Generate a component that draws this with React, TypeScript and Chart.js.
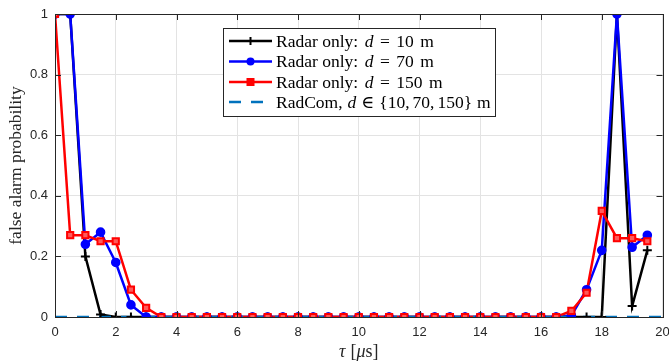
import React, { useEffect, useRef } from "react";
import { Chart, registerables } from "chart.js";

Chart.register(...registerables);

const TAU = [
  0, 0.5, 1, 1.5, 2, 2.5, 3, 3.5, 4, 4.5, 5, 5.5, 6, 6.5, 7, 7.5, 8, 8.5, 9, 9.5,
  10, 10.5, 11, 11.5, 12, 12.5, 13, 13.5, 14, 14.5, 15, 15.5, 16, 16.5, 17, 17.5, 18, 18.5, 19, 19.5,
];
const RADAR_10 = [
  1, 1, 0.2, 0.008, 0, 0, 0, 0, 0, 0, 0, 0, 0, 0, 0, 0, 0, 0, 0, 0,
  0, 0, 0, 0, 0, 0, 0, 0, 0, 0, 0, 0, 0, 0, 0, 0, 0, 1, 0.036, 0.22,
];
const RADAR_70 = [
  1, 1, 0.24, 0.28, 0.18, 0.04, 0, 0, 0, 0, 0, 0, 0, 0, 0, 0, 0, 0, 0, 0,
  0, 0, 0, 0, 0, 0, 0, 0, 0, 0, 0, 0, 0, 0, 0.005, 0.09, 0.22, 1, 0.23, 0.27,
];
const RADAR_150 = [
  1, 0.27, 0.27, 0.25, 0.25, 0.09, 0.03, 0, 0, 0, 0, 0, 0, 0, 0, 0, 0, 0, 0, 0,
  0, 0, 0, 0, 0, 0, 0, 0, 0, 0, 0, 0, 0, 0, 0.02, 0.08, 0.35, 0.26, 0.26, 0.25,
];
const RADCOM_TAU = [0, 20];
const RADCOM = [0, 0];

const X_TICKS = [0, 2, 4, 6, 8, 10, 12, 14, 16, 18, 20];
const Y_TICKS = [0, 0.2, 0.4, 0.6, 0.8, 1];

const BLACK = "#000000";
const BLUE = "#0000ff";
const RED = "#ff0000";
const RADCOM_BLUE = "#0072bd";
const SERIF = "'Liberation Serif', 'DejaVu Serif', serif";
const SANS = "'Liberation Sans', Arial, sans-serif";

const pts = (xs: number[], ys: number[]) => xs.map((x, i) => ({ x, y: ys[i] }));

type Run = { t: string; italic?: boolean; gap?: number };

function drawRuns(ctx: CanvasRenderingContext2D, runs: Run[], x: number, y: number, size: number) {
  let cx = x;
  for (const r of runs) {
    ctx.font = `${r.italic ? "italic " : ""}${size}px ${SERIF}`;
    ctx.fillText(r.t, cx, y);
    cx += ctx.measureText(r.t).width + (r.gap || 0);
  }
}
function runsWidth(ctx: CanvasRenderingContext2D, runs: Run[], size: number) {
  let w = 0;
  for (const r of runs) {
    ctx.font = `${r.italic ? "italic " : ""}${size}px ${SERIF}`;
    w += ctx.measureText(r.t).width + (r.gap || 0);
  }
  return w;
}

const LEGEND = [
  { runs: [{ t: "Radar only:", gap: 6.5 }, { t: "d", italic: true, gap: 6.5 }, { t: "=", gap: 6.5 }, { t: "10", gap: 6.5 }, { t: "m" }], color: BLACK, marker: "cross", dash: false },
  { runs: [{ t: "Radar only:", gap: 6.5 }, { t: "d", italic: true, gap: 6.5 }, { t: "=", gap: 6.5 }, { t: "70", gap: 6.5 }, { t: "m" }], color: BLUE, marker: "circle", dash: false },
  { runs: [{ t: "Radar only:", gap: 6.5 }, { t: "d", italic: true, gap: 6.5 }, { t: "=", gap: 6.5 }, { t: "150", gap: 6.5 }, { t: "m" }], color: RED, marker: "rect", dash: false },
  { runs: [{ t: "RadCom,", gap: 5 }, { t: "d", italic: true, gap: 5 }, { t: "\u2208", gap: 5 }, { t: "{10,", gap: 3 }, { t: "70,", gap: 3 }, { t: "150}", gap: 5 }, { t: "m" }], color: RADCOM_BLUE, marker: "", dash: true },
];

const framePlugin = {
  id: "frame",
  afterDraw(chart: any) {
    const { ctx, chartArea: a, scales } = chart;
    const xs = scales.x;
    const ys = scales.y;
    ctx.save();
    ctx.strokeStyle = "#262626";
    ctx.lineWidth = 1;
    ctx.strokeRect(Math.round(a.left) + 0.5, Math.round(a.top) + 0.5, Math.round(a.right - a.left), Math.round(a.bottom - a.top));
    ctx.beginPath();
    for (const v of X_TICKS) {
      const px = Math.round(xs.getPixelForValue(v)) + 0.5;
      ctx.moveTo(px, a.bottom);
      ctx.lineTo(px, a.bottom - 6);
      ctx.moveTo(px, a.top);
      ctx.lineTo(px, a.top + 6);
    }
    for (const v of Y_TICKS) {
      const py = Math.round(ys.getPixelForValue(v)) + 0.5;
      ctx.moveTo(a.left, py);
      ctx.lineTo(a.left + 6, py);
      ctx.moveTo(a.right, py);
      ctx.lineTo(a.right - 6, py);
    }
    ctx.stroke();

    ctx.fillStyle = "#262626";
    ctx.textBaseline = "alphabetic";
    const xt: Run[] = [{ t: "\u03c4", italic: true, gap: 5 }, { t: "[" }, { t: "\u03bc", italic: true }, { t: "s]" }];
    const xw = runsWidth(ctx, xt, 18);
    drawRuns(ctx, xt, (a.left + a.right) / 2 - xw / 2, 357, 18);

    ctx.save();
    ctx.translate(21, (a.top + a.bottom) / 2);
    ctx.rotate(-Math.PI / 2);
    ctx.font = `17.5px ${SERIF}`;
    ctx.textAlign = "center";
    ctx.fillText("false alarm probability", 0, 0);
    ctx.restore();

    const bx = 223.5, by = 28.5, bw = 272, bh = 88;
    ctx.fillStyle = "#ffffff";
    ctx.fillRect(bx, by, bw, bh);
    ctx.strokeStyle = "#262626";
    ctx.lineWidth = 1;
    ctx.strokeRect(bx, by, bw, bh);
    const rowY = [41, 61.5, 82, 102];
    LEGEND.forEach((item, i) => {
      const y = rowY[i];
      ctx.strokeStyle = item.color;
      ctx.lineWidth = 2.5;
      ctx.setLineDash(item.dash ? [12, 10] : []);
      ctx.beginPath();
      ctx.moveTo(229, y);
      ctx.lineTo(272, y);
      ctx.stroke();
      ctx.setLineDash([]);
      const mx = 250.5;
      if (item.marker === "cross") {
        ctx.lineWidth = 2;
        ctx.beginPath();
        ctx.moveTo(mx, y - 4);
        ctx.lineTo(mx, y + 4);
        ctx.stroke();
      } else if (item.marker === "circle") {
        ctx.fillStyle = item.color;
        ctx.beginPath();
        ctx.arc(mx, y, 4, 0, Math.PI * 2);
        ctx.fill();
      } else if (item.marker === "rect") {
        ctx.fillStyle = item.color;
        ctx.fillRect(mx - 4, y - 4, 8, 8);
      }
      ctx.fillStyle = "#000000";
      ctx.textBaseline = "middle";
      drawRuns(ctx, item.runs as Run[], 276, y + 1, 17.5);
    });
    ctx.restore();
  },
};

export default function App() {
  const ref = useRef<HTMLCanvasElement | null>(null);
  useEffect(() => {
    document.body.style.margin = "0";
    const canvas = ref.current!;
    const lineDs = (label: string, data: number[], color: string, order: number) => ({
      label,
      data: pts(TAU, data),
      borderColor: color,
      backgroundColor: color,
      borderWidth: 2.5,
      pointRadius: 0,
      tension: 0,
      order,
    });
    const pointDs = (label: string, data: number[], color: string, style: string, radius: number, fill: string, order: number) => ({
      label,
      data: pts(TAU, data),
      showLine: false,
      borderColor: color,
      backgroundColor: fill,
      pointStyle: style,
      pointRadius: radius,
      pointBorderWidth: 2,
      order,
    });
    const chart = new Chart(canvas, {
      type: "line",
      data: {
        datasets: [
          pointDs("p150", RADAR_150, RED, "rect", 4.4, "#ff5a5a", 0),
          pointDs("p70", RADAR_70, BLUE, "circle", 3.8, BLUE, 1),
          pointDs("p10", RADAR_10, BLACK, "cross", 4.5, BLACK, 2),
          {
            label: "RadCom",
            data: pts(RADCOM_TAU, RADCOM),
            borderColor: RADCOM_BLUE,
            borderWidth: 2.5,
            borderDash: [12, 10],
            pointRadius: 0,
            order: 3,
          },
          lineDs("Radar only: d = 150 m", RADAR_150, RED, 4),
          lineDs("Radar only: d = 70 m", RADAR_70, BLUE, 5),
          lineDs("Radar only: d = 10 m", RADAR_10, BLACK, 6),
        ] as any,
      },
      options: {
        responsive: false,
        animation: false,
        devicePixelRatio: 1,
        layout: { padding: { top: 14, right: 6, left: 0, bottom: 0 } },
        plugins: { legend: { display: false }, tooltip: { enabled: false } },
        scales: {
          x: {
            type: "linear",
            min: 0,
            max: 20,
            afterFit: (s: any) => { s.height = 45; s.paddingLeft = 0; s.paddingRight = 0; },
            afterBuildTicks: (s: any) => { s.ticks = X_TICKS.map((v) => ({ value: v })); },
            grid: { color: "#e3e3e3", drawTicks: false },
            border: { display: false },
            ticks: { color: "#262626", font: { family: SANS, size: 13 }, padding: 8, maxRotation: 0 },
          },
          y: {
            type: "linear",
            min: 0,
            max: 1,
            afterFit: (s: any) => { s.width = 55; s.paddingTop = 0; s.paddingBottom = 0; },
            afterBuildTicks: (s: any) => { s.ticks = Y_TICKS.map((v) => ({ value: v })); },
            grid: { color: "#e3e3e3", drawTicks: false },
            border: { display: false },
            ticks: {
              color: "#262626",
              font: { family: SANS, size: 13 },
              padding: 7,
              callback: (v: any) => String(Math.round(Number(v) * 10) / 10),
            },
          },
        },
      },
      plugins: [framePlugin],
    });
    return () => chart.destroy();
  }, []);
  return <canvas ref={ref} width={669} height={362} style={{ display: "block" }} />;
}
